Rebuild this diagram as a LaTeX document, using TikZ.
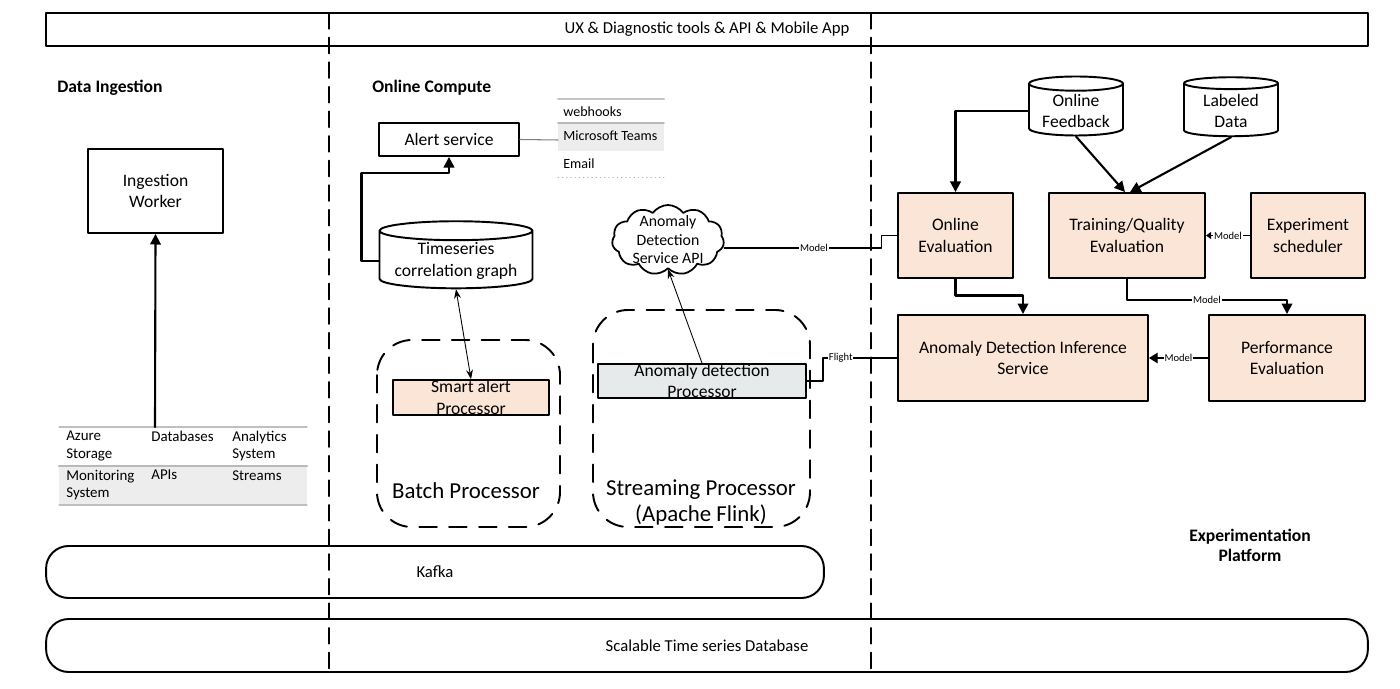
\documentclass[tikz,border=0pt]{standalone}
\usepackage{fontspec}
\setmainfont{Carlito}
\usetikzlibrary{arrows.meta,shapes.geometric,shapes.symbols}
\definecolor{peach}{HTML}{FBE5D6}
\definecolor{ashgray}{HTML}{E7EAEA}
\definecolor{rowgray}{HTML}{EDEDED}

\begin{document}
\begin{tikzpicture}[
	x=0.02cm, y=-0.02cm,
	line cap=round,
	line join=round,
	>=Stealth,
	font=\fontsize{10}{12}\selectfont,
	blk/.style={draw, line width=1.1pt, align=center, inner sep=1pt},
	tank/.style={cylinder, shape border rotate=90, draw, line width=1.1pt,
		fill=white, align=center, inner sep=1pt},
	pill/.style={draw, line width=1.1pt, rounded corners=0.45cm},
	lane/.style={dash pattern=on 9pt off 5pt, line width=1pt},
	procarea/.style={dash pattern=on 10pt off 7pt, line width=1.1pt, rounded corners=0.7cm},
	flow/.style={line width=1.2pt, -{Triangle[width=6pt,length=6pt]}},
	slim/.style={line width=0.5pt},
	lbl/.style={fill=white, inner sep=0.5pt, font=\fontsize{6}{7}\selectfont},
	heading/.style={inner sep=0pt, font=\bfseries\fontsize{10}{11.5}\selectfont},
	src/.style={anchor=north west, inner sep=0pt, align=left, font=\fontsize{8.5}{9.8}\selectfont},
	chan/.style={anchor=west, inner sep=0pt, font=\fontsize{8}{9}\selectfont},
	]
	\useasboundingbox (0,0) rectangle (1400,689);
	
	% Thanh trên cùng
	\node[draw, line width=1.1pt, minimum width=26.44cm, minimum height=0.66cm,
	font=\fontsize{9.5}{11}\selectfont] (ux) at (707,29.5)
	{UX \& Diagnostic tools \& API \& Mobile App};
	
	% Hai đường chia vùng
	\draw[lane] (329,13) -- (329,672);
	\draw[lane] (871,13) -- (871,672);
	
	% Tiêu đề các vùng
	\node[heading, anchor=west] (dihead) at (57,88) {Data Ingestion};
	\node[heading, anchor=west] (ochead) at (372,88) {Online Compute};
	\node[heading, align=center] (ephead) at (1250,545) {Experimentation\\Platform};
	
	% Data Ingestion
	\node[blk, minimum width=2.7cm, minimum height=1.68cm] (worker) at (155.5,191)
	{Ingestion\\Worker};
	
	\fill[rowgray] (59,466) rectangle (307,505);
	\draw[gray!50, line width=0.6pt] (59,427) -- (307,427);
	\draw[gray!55, line width=1.2pt] (59,466) -- (307,466);
	\draw[gray!50, line width=0.6pt] (59,505) -- (307,505);
	
	\node[src] (azure) at (66,431) {Azure\\Storage};
	\node[src] (dbs) at (151,431) {Databases};
	\node[src] (ana) at (232,431) {Analytics\\System};
	\node[src] (mon) at (66,470) {Monitoring\\System};
	\node[src] (apis) at (151,470) {APIs};
	\node[src] (strm) at (232,470) {Streams};
	
	\coordinate (srctop) at (155,427);
	\draw[flow] (srctop) -- (worker.south);
	
	% Online Compute
	\node[blk, minimum width=2.8cm, minimum height=0.66cm] (alert) at (449,139.5)
	{Alert service};
	
	\fill[rowgray] (558,123) rectangle (664,151);
	\draw[gray!45, line width=1.2pt] (558,99) -- (664,99);
	\draw[gray!55, line width=1pt] (558,123) -- (664,123);
	\draw[gray!60, dotted] (558,177) -- (664,177);
	\node[chan] (hooks) at (563,112) {webhooks};
	\node[chan] (teams) at (563,136) {Microsoft Teams};
	\node[chan] (mail) at (563,164) {Email};
	\coordinate (chanin) at (558,140);
	\draw[gray, line width=0.6pt] (alert.east) -- (chanin);
	
	\node[tank, minimum width=3.06cm, minimum height=1.26cm, aspect=0.15] (ts)
	at (456,261) {Timeseries\\correlation graph};
	\draw[flow] (ts.west) -| ++(-17,-88) -| (alert.south);
	
	\draw[procarea] (377,340) rectangle (560,527);
	\node[font=\fontsize{13}{15}\selectfont] (batchlbl) at (466,491) {Batch Processor};
	\node[blk, fill=peach, minimum width=3.12cm, minimum height=0.7cm,
	label={[align=center]center:{Smart alert\\Processor}}] (smart) at (471,397.5) {};
	\draw[slim, <->] (ts.south) -- (smart.north);
	
	\draw[procarea] (593,310) rectangle (810,527);
	\node[align=center, font=\fontsize{13}{14.8}\selectfont] (streamlbl) at (701,502)
	{Streaming Processor\\(Apache Flink)};
	\node[blk, fill=ashgray, minimum width=4.16cm, minimum height=0.68cm,
	label={[align=center]center:{Anomaly detection\\Processor}}] (adp) at (702,381) {};
	
	\node[cloud, draw, line width=1pt, cloud puffs=11, cloud puff arc=110, aspect=1.6,
	minimum width=2.24cm, minimum height=1.4cm,
	label={[align=center, font=\fontsize{9}{10.5}\selectfont]center:{Anomaly\\Detection\\Service API}}]
	(api) at (668,240) {};
	\draw[slim, ->] (adp.north) -- (api.south);
	
	% Experimentation Platform
	\node[tank, minimum width=1.88cm, minimum height=1.18cm, aspect=0.2] (fb)
	at (1076,111) {Online\\Feedback};
	\node[tank, minimum width=1.88cm, minimum height=1.18cm, aspect=0.2] (lab)
	at (1231,111) {Labeled\\Data};
	
	\node[blk, fill=peach, minimum width=2.3cm, minimum height=1.7cm] (oe)
	at (955.5,235.5) {Online\\Evaluation};
	\node[blk, fill=peach, minimum width=3.12cm, minimum height=1.7cm] (tq)
	at (1127,235.5) {Training/Quality\\Evaluation};
	\node[blk, fill=peach, minimum width=2.28cm, minimum height=1.7cm] (es)
	at (1308,235.5) {Experiment\\scheduler};
	\node[blk, fill=peach, minimum width=5cm, minimum height=1.72cm] (adis)
	at (1023,358) {Anomaly Detection Inference\\Service};
	\node[blk, fill=peach, minimum width=3.12cm, minimum height=1.72cm] (pe)
	at (1287,358) {Performance\\Evaluation};
	
	\draw[flow] (fb.west) -| (oe.north);
	\draw[flow] (fb.south) -- ([xshift=-0.04cm]tq.north);
	\draw[flow] (lab.south) -- ([xshift=0.06cm]tq.north);
	\draw[slim, -{Triangle[width=4pt,length=3pt]}] (es.west)
	-- node[lbl] {Model} (tq.east);
	\draw[flow] (tq.south) -- ++(0,21) -| node[lbl, pos=0.25] {Model} (pe.north);
	\draw[flow] (oe.south) -- ++(0,16.5) -| (adis.north);
	\draw[line width=0.8pt, -{Triangle[width=6pt,length=5pt]}] (pe.west)
	-- node[lbl] {Model} (adis.east);
	
	% Nối giữa hai vùng
	\draw[line width=1pt] ([yshift=-0.16cm]api.east)
	-- node[lbl, pos=0.57] {Model} ++(157,0) |- (oe.west);
	\draw[line width=1pt] (adp.east) -- ++(16,0)
	|- node[lbl, pos=0.62] {Flight} (adis.west);
	
	% Kafka và cơ sở dữ liệu
	\node[pill, minimum width=15.56cm, minimum height=1.04cm,
	font=\fontsize{9.5}{11}\selectfont] (kafka) at (435,572) {Kafka};
	\node[pill, minimum width=26.44cm, minimum height=1.06cm,
	font=\fontsize{9.5}{11}\selectfont] (tsdb) at (707,645.5) {Scalable Time series Database};
	
\end{tikzpicture}
\end{document}
